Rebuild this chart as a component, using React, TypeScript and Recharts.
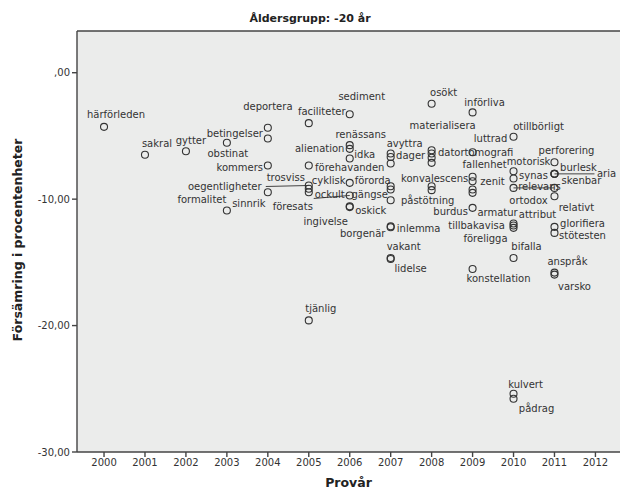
import React from 'react';
import { ScatterChart, Scatter, XAxis, YAxis, CartesianGrid, ReferenceLine } from 'recharts';

// Provår per ord
const YEARS = [
  2000, 2001, 2002, 2003, 2003,
  2004, 2004, 2004, 2004,
  2005, 2005, 2005, 2005, 2005, 2005,
  2006, 2006, 2006, 2006, 2006, 2006, 2006, 2006,
  2007, 2007, 2007, 2007, 2007, 2007, 2007, 2007, 2007, 2007,
  2008, 2008, 2008, 2008, 2008, 2008, 2008,
  2009, 2009, 2009, 2009, 2009, 2009, 2009, 2009,
  2010, 2010, 2010, 2010, 2010, 2010, 2010, 2010, 2010, 2010,
  2011, 2011, 2011, 2011, 2011, 2011, 2011, 2011, 2011, 2011,
];

// Försämring i procentenheter
const VALUES = [
  -4.28, -6.49, -6.21, -5.54, -10.9,
  -4.35, -5.2, -7.34, -9.45,
  -3.99, -7.34, -8.92, -9.18, -9.45, -19.59,
  -3.28, -5.73, -6.02, -6.79, -8.71, -9.71, -10.56, -10.63,
  -6.39, -6.67, -7.18, -8.98, -9.24, -10.09, -12.15, -12.22, -14.65, -14.74,
  -2.45, -6.13, -6.39, -6.73, -7.13, -8.98, -9.29,
  -3.14, -6.29, -8.23, -8.58, -9.24, -9.5, -10.69, -15.52,
  -5.07, -7.79, -8.37, -9.11, -11.93, -12.09, -12.27, -14.65, -25.39, -25.79,
  -7.08, -8.0, -8.0, -8.0, -9.11, -9.77, -12.19, -12.67, -15.81, -15.97,
];

const WORDS = [
  'härförleden', 'sakral', 'gytter', 'obstinat', 'formalitet',
  'deportera', 'betingelser', 'kommers', 'sinnrik',
  'faciliteter', 'förehavanden', 'oegentligheter', 'trosviss', 'föresats', 'tjänlig',
  'sediment', 'renässans', 'alienation', 'idka', 'cyklisk', 'ockult', 'oskick', 'ingivelse',
  'avyttra', '', '', 'förorda', 'gängse', 'påstötning', 'inlemma', 'borgenär', 'vakant', 'lidelse',
  'osökt', 'materialisera', 'datortomografi', 'dager', '', 'konvalescens', 'burdus',
  'införliva', 'luttrad', 'fallenhet', 'zenit', '', '', 'armatur', 'konstellation',
  'otillbörligt', 'motorisk', 'synas', 'ortodox', 'attribut', 'tillbakavisa', 'föreligga', 'bifalla', 'kulvert', 'pådrag',
  'perforering', 'aria', 'burlesk', 'skenbar', 'relevans', 'relativt', 'glorifiera', 'stötesten', 'anspråk', 'varsko',
];

const X_TICKS = [2000, 2001, 2002, 2003, 2004, 2005, 2006, 2007, 2008, 2009, 2010, 2011, 2012];
const Y_TICKS = [0, -10, -20, -30];

// label placement relative to the marker (px)
const LABEL_POS: Record<string, [number, number]> = {
  'härförleden': [12, -12], sakral: [12, -11], gytter: [5, -11], obstinat: [1, 11], formalitet: [-25, -11],
  deportera: [0, -21], betingelser: [-33, -5], kommers: [-28, 2], sinnrik: [-19, 11],
  faciliteter: [13, -12], 'förehavanden': [41, 2], oegentligheter: [-84, 1], trosviss: [-23, -11],
  'föresats': [-16, 14], 'tjänlig': [12, -12],
  sediment: [12, -18], 'renässans': [11, -11], alienation: [-30, 0], idka: [15, -4], cyklisk: [-21, -2],
  ockult: [-20, -1], oskick: [21, 4], ingivelse: [-24, 14],
  avyttra: [14, -10], 'förorda': [-18, -6], 'gängse': [-21, 5], 'påstötning': [37, 0], inlemma: [28, 2],
  'borgenär': [-28, 6], vakant: [13, -11], lidelse: [20, 9],
  'osökt': [12, -11], materialisera: [11, -25], datortomografi: [44, -1], dager: [-21, -2],
  konvalescens: [3, -8], burdus: [19, 21],
  'införliva': [12, -10], luttrad: [18, -14], fallenhet: [12, -12], zenit: [20, 0], armatur: [25, 5],
  konstellation: [26, 10],
  'otillbörligt': [25, -10], motorisk: [15, -10], synas: [20, -3], ortodox: [15, 13], attribut: [24, -9],
  tillbakavisa: [-37, 0], 'föreligga': [-28, 11], bifalla: [13, -11], kulvert: [12, -9], 'pådrag': [23, 10],
  perforering: [12, -12], aria: [52, 0], burlesk: [24, -6], skenbar: [27, 7], relevans: [-15, -1],
  relativt: [22, 11], glorifiera: [28, -3], 'stötesten': [28, 3], 'anspråk': [13, -11], varsko: [20, 12],
};

// leader lines from marker to label
const LEADERS: Record<string, [number, number]> = {
  oegentligheter: [-43, 1],
  ockult: [-36, 3],
  relevans: [-41, 0],
  aria: [40, 0],
};

const points = YEARS.map((year, i) => ({ year, value: VALUES[i], name: WORDS[i] }));

const INK = '#333';

const renderPoint = (props: any) => {
  const { cx, cy, payload } = props;
  const name: string = payload.name;
  const pos = LABEL_POS[name];
  const lead = LEADERS[name];
  return (
    <g>
      {lead && (
        <line x1={cx} y1={cy} x2={cx + lead[0]} y2={cy + lead[1]} stroke="#444" strokeWidth={1} />
      )}
      {name && pos && (
        <text x={cx + pos[0]} y={cy + pos[1]} dy="0.35em" textAnchor="middle" fontSize={10} fill={INK}>
          {name}
        </text>
      )}
      <circle cx={cx} cy={cy} r={3.5} fill="none" stroke={INK} strokeWidth={1.1} />
    </g>
  );
};

const fmtY = (v: number) => (v === 0 ? ',00' : v.toFixed(2).replace('.', ','));

export default function App() {
  return (
    <div style={{ position: 'relative', width: 620, height: 496, overflow: 'hidden', fontFamily: 'DejaVu Sans, sans-serif', background: '#fff' }}>
      <style>{'body{margin:0}'}</style>
      <ScatterChart width={620} height={496} margin={{ top: 31, right: 0, bottom: 0, left: 0 }}>
        <CartesianGrid fill="#EBECEB" horizontal={false} vertical={false} stroke="none" />
        <XAxis
          type="number"
          dataKey="year"
          domain={[1999.34, 2012.6]}
          ticks={X_TICKS}
          interval={0}
          allowDataOverflow
          height={44}
          tickSize={5}
          stroke="#444"
          strokeWidth={1.4}
          tick={{ fontSize: 10, fill: INK }}
        />
        <YAxis
          type="number"
          dataKey="value"
          domain={[-30, 3.3]}
          ticks={Y_TICKS}
          interval={0}
          allowDataOverflow
          width={77}
          tickSize={5}
          stroke="#444"
          strokeWidth={1.4}
          tickFormatter={fmtY}
          tick={{ fontSize: 10, fill: INK }}
        />
        <ReferenceLine y={3.3} stroke="#444" strokeWidth={1.4} />
        <Scatter data={points} shape={renderPoint} isAnimationActive={false} />
      </ScatterChart>
      <div style={{ position: 'absolute', left: 0, top: 12, width: 620, textAlign: 'center', fontSize: 11, fontWeight: 'bold', lineHeight: '14px', color: '#222' }}>
        Åldersgrupp: -20 år
      </div>
      <div style={{ position: 'absolute', left: 77, top: 475, width: 543, textAlign: 'center', fontSize: 12.5, fontWeight: 'bold', lineHeight: '16px', color: '#222' }}>
        Provår
      </div>
      <div style={{ position: 'absolute', left: 18, top: 240, transform: 'translate(-50%, -50%) rotate(-90deg)', whiteSpace: 'nowrap', fontSize: 12.5, fontWeight: 'bold', lineHeight: '16px', color: '#222' }}>
        Försämring i procentenheter
      </div>
    </div>
  );
}
